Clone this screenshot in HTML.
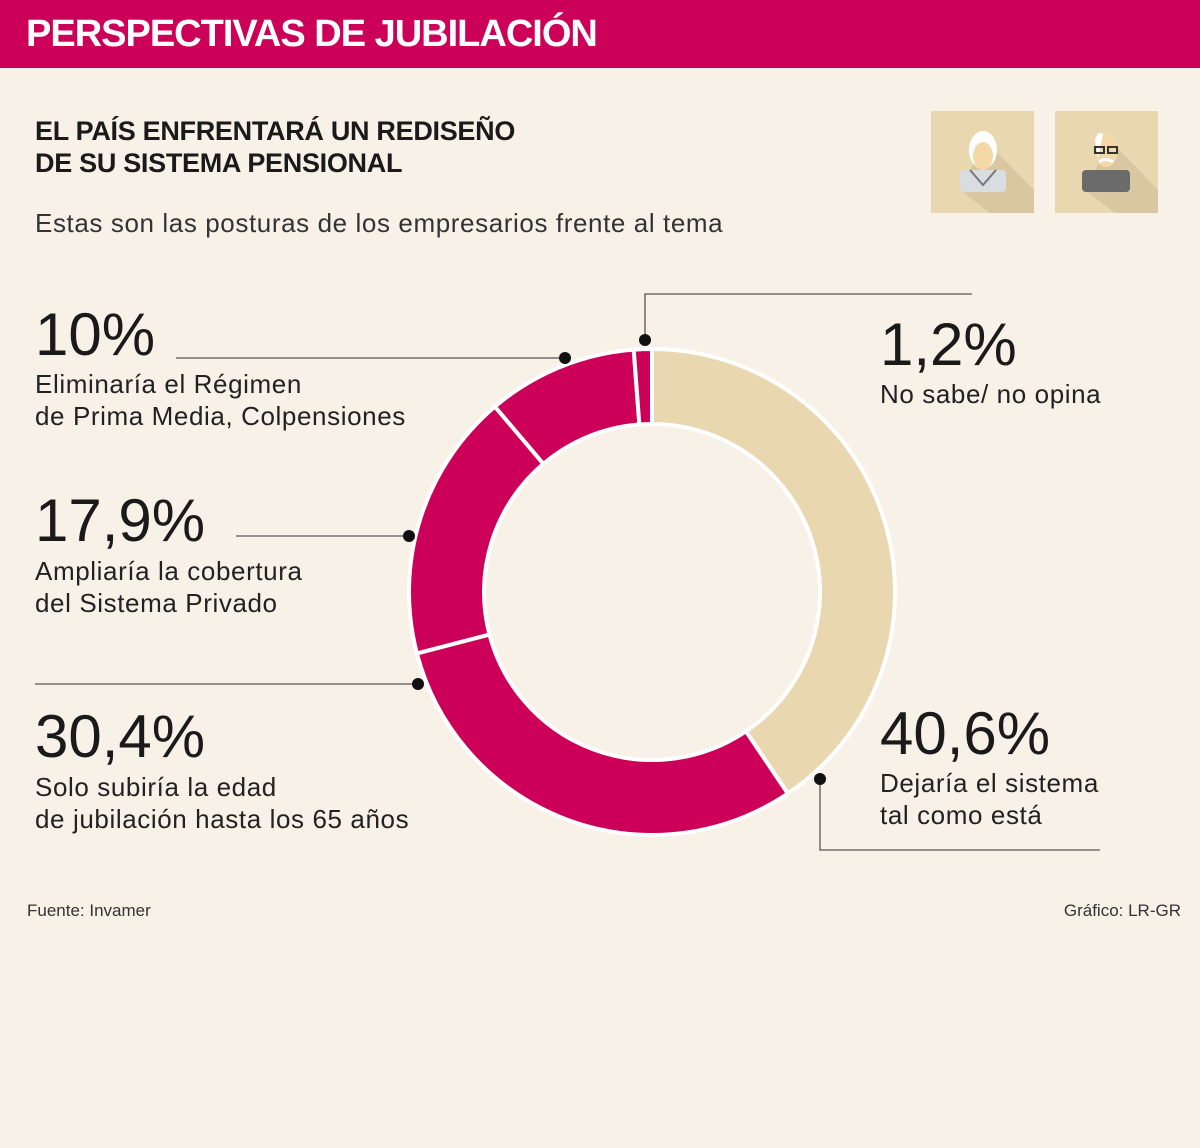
<!DOCTYPE html>
<html><head><meta charset="utf-8"><style>
body{margin:0;width:1200px;height:1148px;background:#f7f1e8;font-family:"Liberation Sans",sans-serif;position:relative;overflow:hidden;color:#1a1a1a}
.t{position:absolute;white-space:nowrap}
.big{font-size:60px;letter-spacing:0px;line-height:1}
.lab{font-size:26px;line-height:32px;letter-spacing:0.6px;color:#222}
</style></head><body>
<div style="position:absolute;left:0;top:0;width:1200px;height:68px;background:#cc0058"></div>
<div class="t" style="left:26px;top:13px;font-size:38px;font-weight:bold;color:#fff;letter-spacing:-1px">PERSPECTIVAS DE JUBILACIÓN</div>
<div class="t" style="left:35px;top:115px;font-size:27px;font-weight:bold;line-height:32px;letter-spacing:-0.3px">EL PAÍS ENFRENTARÁ UN REDISEÑO<br>DE SU SISTEMA PENSIONAL</div>
<div class="t" style="left:35px;top:208px;font-size:26px;letter-spacing:0.6px;color:#333">Estas son las posturas de los empresarios frente al tema</div>

<svg style="position:absolute;left:0;top:0" width="1200" height="240">
<g>
<rect x="931" y="111" width="103" height="102" fill="#e9d7b0"/>
<polygon points="985,140 1034,190 1034,213 990,213 960,190" fill="#d9c7a2"/>
<rect x="960" y="170" width="46" height="22" rx="4" fill="#d8dde2"/>
<path d="M970 170 L983 185 L996 170" stroke="#777" stroke-width="2" fill="none"/>
<ellipse cx="983" cy="150" rx="14" ry="19" fill="#fff"/>
<ellipse cx="983" cy="156" rx="10" ry="14" fill="#f4d9a8"/>
</g>
<g>
<rect x="1055" y="111" width="103" height="102" fill="#e9d7b0"/>
<polygon points="1110,140 1158,190 1158,213 1115,213 1085,190" fill="#d9c7a2"/>
<rect x="1082" y="170" width="48" height="22" rx="4" fill="#6b6b6b"/>
<ellipse cx="1106" cy="150" rx="12" ry="17" fill="#f4d9a8"/>
<path d="M1095 140 Q1098 130 1103 134 L1098 158 Z" fill="#fff"/>
<rect x="1095" y="147" width="9" height="6" fill="none" stroke="#333" stroke-width="2"/>
<rect x="1108" y="147" width="9" height="6" fill="none" stroke="#333" stroke-width="2"/>
<path d="M1099 162 Q1106 157 1113 162" stroke="#fff" stroke-width="3" fill="none"/>
</g>
</svg>

<svg id="chart" style="position:absolute;left:0;top:0" width="1200" height="1148"></svg>

<div class="t big" style="left:35px;top:305px">10%</div>
<div class="t lab" style="left:35px;top:368px">Eliminaría el Régimen<br>de Prima Media, Colpensiones</div>
<div class="t big" style="left:35px;top:491px">17,9%</div>
<div class="t lab" style="left:35px;top:555px">Ampliaría la cobertura<br>del Sistema Privado</div>
<div class="t big" style="left:35px;top:707px">30,4%</div>
<div class="t lab" style="left:35px;top:771px">Solo subiría la edad<br>de jubilación hasta los 65 años</div>
<div class="t big" style="left:880px;top:315px">1,2%</div>
<div class="t lab" style="left:880px;top:378px">No sabe/ no opina</div>
<div class="t big" style="left:880px;top:704px">40,6%</div>
<div class="t lab" style="left:880px;top:767px">Dejaría el sistema<br>tal como está</div>

<div class="t" style="left:27px;top:901px;font-size:17px;color:#333">Fuente: Invamer</div>
<div class="t" style="right:19px;top:901px;font-size:17px;color:#333">Gráfico: LR-GR</div>

<script>
const categories = ["Dejaría el sistema", "Solo subiría la edad", "Ampliaría la cobertura", "Eliminaría el RPM", "No sabe/ no opina"];
const values = [40.6, 30.4, 17.9, 10, 1.2];
const colors = ["#e9d7b0", "#cc0058", "#cc0058", "#cc0058", "#cc0058"];
const NS = "http://www.w3.org/2000/svg";
const svg = document.getElementById("chart");
const cx = 652, cy = 592, R = 243, r = 168;
const total = values.reduce((a, b) => a + b, 0);
function pt(rad, frac) { const a = frac * 2 * Math.PI; return [cx + rad * Math.sin(a), cy - rad * Math.cos(a)]; }
let acc = 0;
values.forEach((v, i) => {
  const f0 = acc / total, f1 = (acc + v) / total; acc += v;
  const [x0, y0] = pt(R, f0), [x1, y1] = pt(R, f1), [x2, y2] = pt(r, f1), [x3, y3] = pt(r, f0);
  const large = (f1 - f0) > 0.5 ? 1 : 0;
  const p = document.createElementNS(NS, "path");
  p.setAttribute("d", `M${x0} ${y0} A${R} ${R} 0 ${large} 1 ${x1} ${y1} L${x2} ${y2} A${r} ${r} 0 ${large} 0 ${x3} ${y3} Z`);
  p.setAttribute("fill", colors[i]);
  p.setAttribute("stroke", "#fff");
  p.setAttribute("stroke-width", "4");
  
  
  svg.appendChild(p);
});
const leaders = [
  "M176 358 L565 358", "M236 536 L409 536", "M35 684 L418 684",
  "M645 340 L645 294 L972 294", "M820 779 L820 850 L1100 850"
];
const dots = [[565, 358], [409, 536], [418, 684], [645, 340], [820, 779]];
leaders.forEach(d => {
  const l = document.createElementNS(NS, "path");
  l.setAttribute("d", d); l.setAttribute("fill", "none"); l.setAttribute("stroke", "#555"); l.setAttribute("stroke-width", "1.3");
  
  
  svg.appendChild(l);
});
dots.forEach(([x, y]) => {
  const c = document.createElementNS(NS, "circle");
  c.setAttribute("cx", x); c.setAttribute("cy", y); c.setAttribute("r", 6); c.setAttribute("fill", "#111");
  
  
  svg.appendChild(c);
});
</script>
</body></html>
